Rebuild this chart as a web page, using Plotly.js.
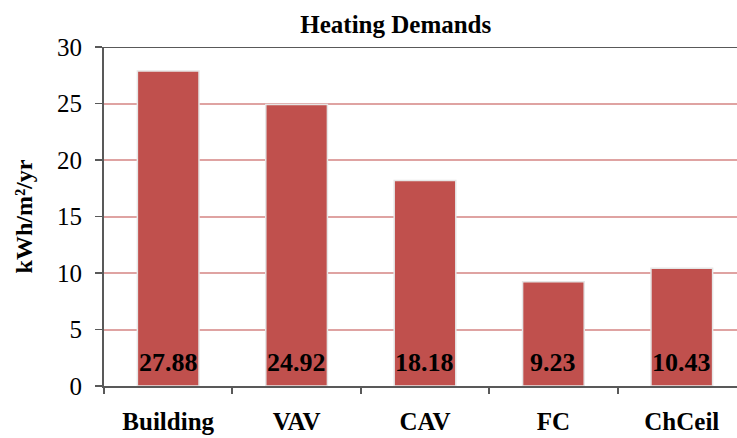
<!DOCTYPE html>
<html>
<head>
<meta charset="utf-8">
<script src="https://cdn.plot.ly/plotly-3.0.1.min.js"></script>
<style>html,body{margin:0;padding:0;background:#fff;}#chart{width:737px;height:438px;}</style>
</head>
<body>
<div id="chart"></div>
<script>
const categories = ["Building", "VAV", "CAV", "FC", "ChCeil"];
const heatingDemand = [27.88, 24.92, 18.18, 9.23, 10.43];
const yTicks = [0, 5, 10, 15, 20, 25, 30];

const serif = "Liberation Serif, Times New Roman, serif";

const trace = {
  type: "bar",
  x: categories,
  y: heatingDemand,
  marker: { color: "#C0504D", line: { color: "#E6E6E6", width: 1.5 } },
  hoverinfo: "none"
};

// value labels near the base of each bar
const labelAnnotations = categories.map((c, i) => ({
  x: c, y: 0, xref: "x", yref: "y",
  text: "<b>" + heatingDemand[i].toFixed(2) + "</b>",
  showarrow: false,
  yanchor: "middle", xanchor: "center",
  yshift: 24,
  font: { family: serif, size: 26, color: "#000" }
}));

const layout = {
  width: 737, height: 438,
  margin: { l: 104, r: 0, t: 47, b: 52 },
  paper_bgcolor: "#fff", plot_bgcolor: "#fff",
  showlegend: false,
  bargap: 0.52,
  title: {
    text: "<b>Heating Demands</b>",
    font: { family: serif, size: 25, color: "#000" },
    x: 0.537, xanchor: "center", y: 0.945, yanchor: "middle", yref: "container"
  },
  xaxis: {
    type: "category",
    range: [-0.5, 4.43],
    showgrid: false,
    showline: true, linecolor: "#595959", linewidth: 2,
    ticks: "outside", tickson: "boundaries", ticklen: 6, tickwidth: 2, tickcolor: "#595959",
    tickfont: { family: serif, size: 25, color: "#000", weight: "bold" },
    ticklabelstandoff: 12,
    zeroline: false
  },
  yaxis: {
    range: [0, 30],
    tickvals: yTicks,
    showgrid: true, gridcolor: "#DFA3A2", gridwidth: 2,
    showline: true, linecolor: "#595959", linewidth: 2,
    ticks: "outside", ticklen: 7, tickwidth: 1.5, tickcolor: "#595959",
    tickfont: { family: serif, size: 25, color: "#000" },
    ticklabelstandoff: 8,
    zeroline: false,
    title: {
      text: "<b>kWh/m²/yr</b>",
      font: { family: serif, size: 24, color: "#000" },
      standoff: 18
    },
    automargin: false
  },
  annotations: labelAnnotations,
  shapes: [
    { type: "line", xref: "paper", yref: "y", x0: 0, x1: 1, y0: 30, y1: 30,
      line: { color: "#595959", width: 2 } }
  ]
};

Plotly.newPlot("chart", [trace], layout, { staticPlot: true, displayModeBar: false });
</script>
</body>
</html>
